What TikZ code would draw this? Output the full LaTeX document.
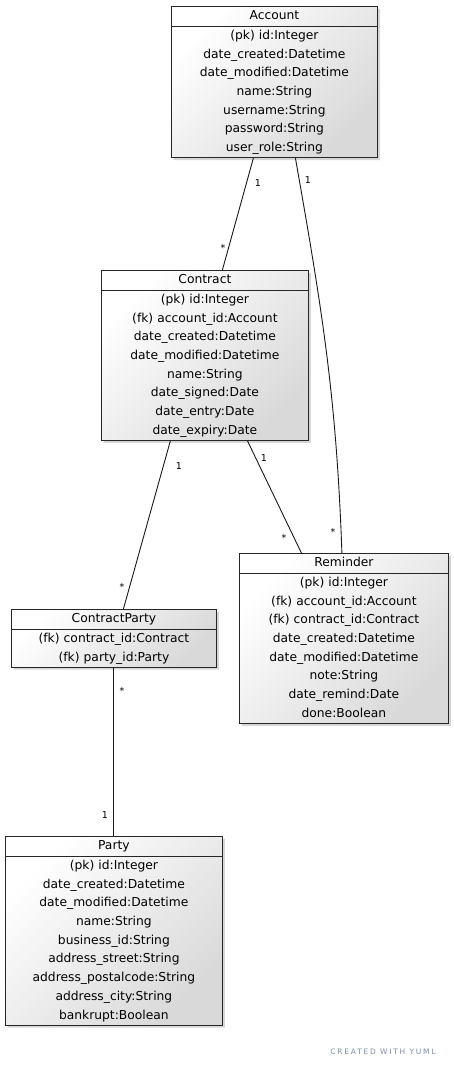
\documentclass[tikz,border=0pt]{standalone}
\usepackage{fontspec}
\setmainfont{DejaVu Sans}
\usetikzlibrary{shapes.multipart, shadows}
\definecolor{yumlgray}{RGB}{125,140,165}

\begin{document}
\begin{tikzpicture}[x=1pt,y=1pt,
	umlclass/.style={rectangle split, rectangle split parts=2, anchor=north west, draw=black!85, line width=0.8pt,
		inner xsep=0pt, inner ysep=0pt, align=center, font=\fontsize{12.3}{18.7}\selectfont,
		top color=white, bottom color=black!15, shading angle=45,
		drop shadow={shadow xshift=2.5pt, shadow yshift=-2.5pt, fill=black!40, opacity=0.4}},
	mult/.style={inner sep=0pt, font=\fontsize{9.5}{10}\selectfont},
	assoc/.style={draw=black!90, line width=0.9pt}]
	\useasboundingbox (0,0) rectangle (453,-1068);

	\node[umlclass, text width=206pt] (account) at (171,-6) {\strut Account\nodepart{two}\strut(pk) id:Integer\\date\_created:Datetime\\date\_modified:Datetime\\name:String\\username:String\\password:String\\user\_role:String\strut};
	\node[umlclass, text width=207pt] (contract) at (101,-270) {\strut Contract\nodepart{two}\strut(pk) id:Integer\\(fk) account\_id:Account\\date\_created:Datetime\\date\_modified:Datetime\\name:String\\date\_signed:Date\\date\_entry:Date\\date\_expiry:Date\strut};
	\node[umlclass, text width=209pt] (reminder) at (239,-553) {\strut Reminder\nodepart{two}\strut(pk) id:Integer\\(fk) account\_id:Account\\(fk) contract\_id:Contract\\date\_created:Datetime\\date\_modified:Datetime\\note:String\\date\_remind:Date\\done:Boolean\strut};
	\node[umlclass, text width=205pt] (contractparty) at (11,-609) {\strut ContractParty\nodepart{two}\strut(fk) contract\_id:Contract\\(fk) party\_id:Party\strut};
	\node[umlclass, text width=217pt] (party) at (5,-836) {\strut Party\nodepart{two}\strut(pk) id:Integer\\date\_created:Datetime\\date\_modified:Datetime\\name:String\\business\_id:String\\address\_street:String\\address\_postalcode:String\\address\_city:String\\bankrupt:Boolean\strut};

	\draw[assoc] ([xshift=-21pt]account.south) -- ([xshift=17.5pt]contract.north);
	\draw[assoc] ([xshift=21pt]account.south) to[out=-80, in=92] ([xshift=-2pt]reminder.north);
	\draw[assoc] ([xshift=-34.5pt]contract.south) -- ([xshift=9.5pt]contractparty.north);
	\draw[assoc] ([xshift=42.5pt]contract.south) -- ([xshift=-42.5pt]reminder.north);
	\draw[assoc] (contractparty.south) -- (party.north);

	%multiplicities
	\node[mult] (m1) at (258,-183) {1};
	\node[mult] (m2) at (223,-248) {*};
	\node[mult] (m3) at (308,-180) {1};
	\node[mult] (m4) at (333,-532) {*};
	\node[mult] (m5) at (179,-466) {1};
	\node[mult] (m6) at (122,-587) {*};
	\node[mult] (m7) at (264,-458) {1};
	\node[mult] (m8) at (284,-538) {*};
	\node[mult] (m9) at (122,-691) {*};
	\node[mult] (m10) at (105,-815) {1};

	\node[text=yumlgray, font=\fontsize{7.5}{8}\selectfont\addfontfeature{LetterSpace=24}] (credit) at (383,-1052) {CREATED WITH YUML};
\end{tikzpicture}
\end{document}
